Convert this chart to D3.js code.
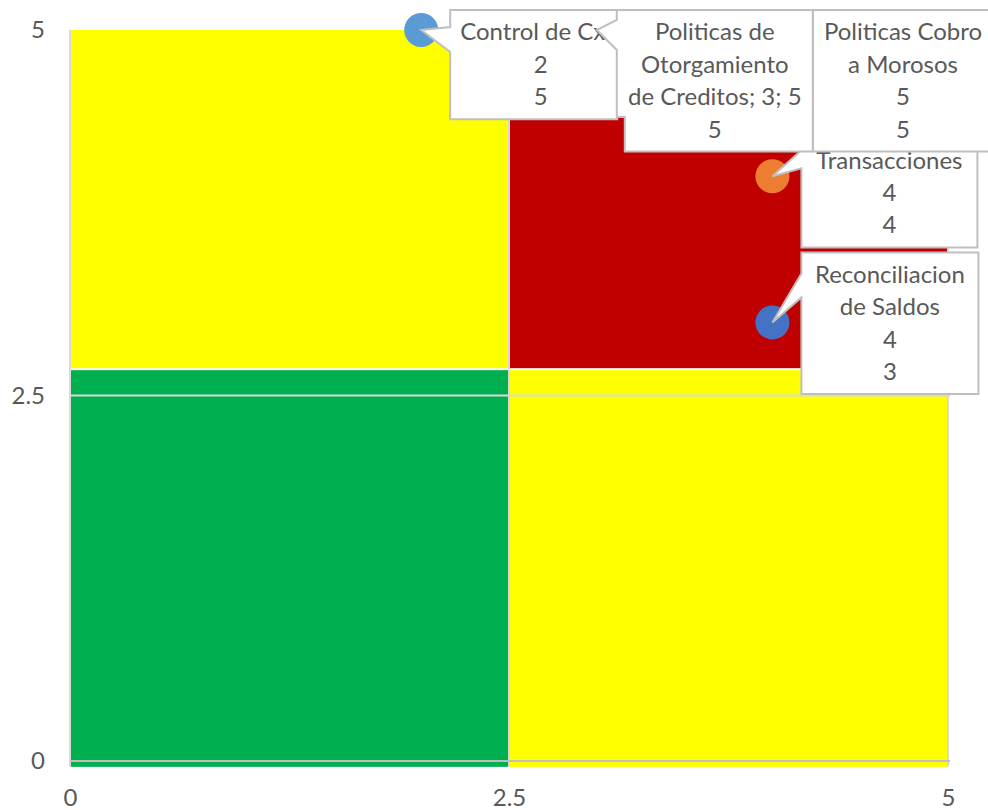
<!DOCTYPE html>
<html>
<head>
<meta charset="utf-8">
<title>Matriz de riesgo</title>
<script src="https://d3js.org/d3.v7.min.js"></script>
<style>
  body { margin: 0; background: #fff; }
  text { font-family: Lato, "Noto Sans", sans-serif; fill: #595959; }
  .axis text { font-size: 24px; }
  .lbl text { font-size: 24px; }
</style>
</head>
<body>
<div id="chart"></div>
<script>
// puntos de la matriz
const names = ["Control de CxC", "Politicas de Otorgamiento de Creditos", "Politicas Cobro a Morosos", "Transacciones", "Reconciliacion de Saldos"];
const xVals = [2, 3, 5, 4, 4];
const yVals = [5, 5, 5, 4, 3];
const pointColors = ["#5B9BD5", "#A5A5A5", "#FFC000", "#ED7D31", "#4472C4"];
const labelLines = [
  ["Control de CxC", "2", "5"],
  ["Politicas de", "Otorgamiento", "de Creditos; 3; 5", "5"],
  ["Politicas Cobro", "a Morosos", "5", "5"],
  ["Transacciones", "4", "4"],
  ["Reconciliacion", "de Saldos", "4", "3"]
];

// cuadrantes de fondo
const quadX0 = [0, 2.5, 0, 2.5];
const quadX1 = [2.5, 5, 2.5, 5];
const quadY0 = [2.68, 2.68, -0.04, -0.04];
const quadY1 = [5, 5, 2.68, 2.68];
const quadColors = ["#FFFF00", "#C00000", "#00B050", "#FFFF00"];

const xTicks = [0, 2.5, 5];
const yTicks = [0, 2.5, 5];

// posicion de las etiquetas (px, relativo al punto)
const labelBox = [
  { dx: 29, dy: -20, w: 167, wedge: [-3, 22] },
  { dx: 20, dy: -20, w: 196, wedge: [-10, 20], notch: [8, 107] },
  { dx: -135, dy: -20, w: 180, wedge: null },
  { dx: 29, dy: -38, w: 176, wedge: [-26, -8] },
  { dx: 29, dy: -70, w: 177, wedge: [-49, -25] }
];
const drawOrder = [0, 3, 4, 1, 2];
const lineH = 32.4;

const W = 988, H = 810;
const svg = d3.select("#chart").append("svg")
  .attr("width", W).attr("height", H);

const x = d3.scaleLinear().domain([0, 5]).range([70, 948]);
const y = d3.scaleLinear().domain([0, 5]).range([761, 30]);

// cuadrantes
svg.append("g").selectAll("rect")
  .data(quadColors)
  .join("rect")
  .attr("x", (d, i) => x(quadX0[i]) + 1)
  .attr("y", (d, i) => y(quadY1[i]) + (quadY1[i] < 5 ? 1 : 0))
  .attr("width", (d, i) => x(quadX1[i]) - x(quadX0[i]) - 2)
  .attr("height", (d, i) => y(quadY0[i]) - y(quadY1[i]) - 1)
  .attr("fill", d => d);

// lineas de division
const grid = svg.append("g");
grid.selectAll("line.v")
  .data(xTicks)
  .join("line")
  .attr("x1", d => x(d)).attr("x2", d => x(d))
  .attr("y1", y(5)).attr("y2", y(-0.04))
  .attr("stroke", "#d9d9d9").attr("stroke-width", 2);
grid.selectAll("line.h")
  .data([2.5, 0])
  .join("line")
  .attr("x1", x(0)).attr("x2", x(5) + 2)
  .attr("y1", d => y(d)).attr("y2", d => y(d))
  .attr("stroke", d => d === 0 ? "#bfbfbf" : "#d9d9d9")
  .attr("stroke-width", 2);

// ejes
const fmt = d3.format("~g");
svg.append("g")
  .attr("class", "axis")
  .attr("transform", `translate(0,${y(0)})`)
  .call(d3.axisBottom(x).tickValues(xTicks).tickFormat(fmt).tickSize(0).tickPadding(28))
  .call(g => g.select(".domain").remove());
svg.append("g")
  .attr("class", "axis")
  .attr("transform", `translate(${x(0)},0)`)
  .call(d3.axisLeft(y).tickValues(yTicks).tickFormat(fmt).tickSize(0).tickPadding(25))
  .call(g => g.select(".domain").remove());
svg.selectAll(".axis text").attr("fill", "#595959");

// puntos
svg.append("g").selectAll("circle")
  .data(names)
  .join("circle")
  .attr("cx", (d, i) => x(xVals[i]))
  .attr("cy", (d, i) => y(yVals[i]))
  .attr("r", 17)
  .attr("fill", (d, i) => pointColors[i]);

// etiquetas tipo globo
const lbls = svg.append("g").attr("class", "lbl");
drawOrder.forEach(i => {
  const px = x(xVals[i]), py = y(yVals[i]);
  const b = labelBox[i];
  const lines = labelLines[i];
  const L = px + b.dx, T = py + b.dy, R = L + b.w;
  const B = T + lines.length * lineH + 12;
  const g = lbls.append("g");

  const p = d3.path();
  p.moveTo(L, T);
  p.lineTo(R, T);
  p.lineTo(R, B);
  if (b.notch) {
    p.lineTo(L + b.notch[0], B);
    p.lineTo(L + b.notch[0], T + b.notch[1]);
    p.lineTo(L, T + b.notch[1]);
  } else {
    p.lineTo(L, B);
  }
  if (b.wedge) {
    p.lineTo(L, py + b.wedge[1]);
    p.lineTo(px, py);
    p.lineTo(L, py + b.wedge[0]);
  }
  p.closePath();
  g.append("path")
    .attr("d", p.toString())
    .attr("fill", "#fff")
    .attr("stroke", "#bfbfbf")
    .attr("stroke-width", 2)
    .attr("stroke-linejoin", "miter");

  const texts = g.selectAll("text")
    .data(lines)
    .join("text")
    .attr("text-anchor", "middle")
    .attr("y", (d, k) => T + 22 + k * lineH)
    .attr("dy", "0.35em")
    .text(d => d);
  let maxW = 0;
  texts.each(function () { maxW = Math.max(maxW, this.getComputedTextLength()); });
  const cx = maxW > b.w - 20 ? L + 10 + maxW / 2 : L + b.w / 2;
  texts.attr("x", cx);
});
</script>
</body>
</html>
